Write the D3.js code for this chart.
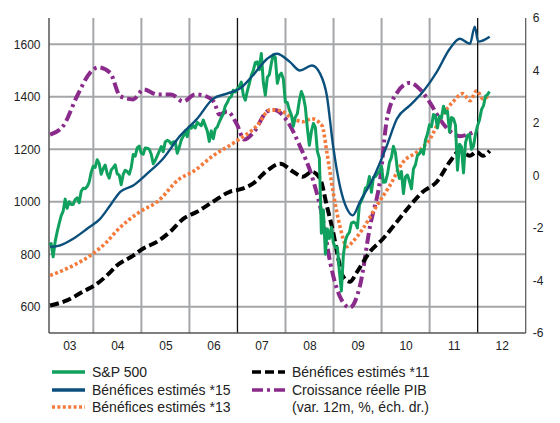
<!DOCTYPE html>
<html>
<head>
<meta charset="utf-8">
<script src="https://cdn.jsdelivr.net/npm/d3@7"></script>
<style>
body { margin: 0; background: #fff; }
text { font-family: "Liberation Sans", Arial, sans-serif; fill: #222; }
</style>
</head>
<body>
<script>
// axis ticks
var leftTicks = [600, 800, 1000, 1200, 1400, 1600];
var rightTicks = [-6, -4, -2, 0, 2, 4, 6];
var yearLabels = ["03", "04", "05", "06", "07", "08", "09", "10", "11", "12"];
var yearStarts = [2003, 2004, 2005, 2006, 2007, 2008, 2009, 2010, 2011, 2012];

// S&P 500, twice a month from Feb 2003
var spStart = 2003.08;
var sp500 = [
  835, 841, 790, 848, 885, 917, 946, 964, 1010, 975, 1000, 990, 990, 1008, 1015, 996, 1040, 1051, 1050, 1058, 1075, 1112,
  1135, 1131, 1160, 1145, 1105, 1126, 1140, 1107, 1090, 1121, 1130, 1141, 1106, 1102, 1065, 1104, 1120, 1115, 1105, 1130, 1180, 1174, 1205, 1212,
  1185, 1181, 1205, 1204, 1200, 1181, 1145, 1157, 1175, 1192, 1210, 1191, 1228, 1234, 1230, 1220, 1228, 1229, 1185, 1207, 1235, 1249, 1270, 1248,
  1287, 1280, 1290, 1281, 1303, 1295, 1290, 1311, 1290, 1270, 1230, 1270, 1240, 1277, 1285, 1304, 1320, 1336, 1365, 1378, 1395, 1401, 1425, 1418,
  1430, 1438, 1456, 1407, 1387, 1421, 1450, 1482, 1500, 1531, 1533, 1503, 1565, 1455, 1406, 1474, 1484, 1527, 1560, 1549, 1451, 1481, 1490, 1468,
  1380, 1378, 1350, 1331, 1288, 1323, 1335, 1386, 1420, 1400, 1360, 1280, 1215, 1267, 1298, 1283, 1192, 1165, 880, 969, 800, 896, 860, 903,
  843, 826, 827, 735, 660, 798, 852, 873, 883, 919, 923, 919, 900, 987, 1004, 1021, 1052, 1057, 1096, 1036, 1093, 1096, 1107, 1115,
  1136, 1074, 1075, 1104, 1150, 1169, 1211, 1187, 1120, 1089, 1115, 1031, 1095, 1102, 1079, 1049, 1125, 1141, 1176, 1183, 1199, 1181, 1235, 1258,
  1293, 1286, 1332, 1327, 1281, 1326, 1319, 1364, 1338, 1345, 1266, 1321, 1316, 1292, 1120, 1219, 1209, 1110, 1224, 1253, 1257, 1200, 1212, 1258,
  1289, 1312, 1351, 1366, 1402, 1408, 1420
];

// estimated earnings *15  [year, value]
var eps15 = [
  [2003.10, 828], [2003.31, 834], [2003.58, 859], [2003.87, 897], [2004.14, 935], [2004.35, 986],
  [2004.56, 1038], [2004.83, 1062], [2005.12, 1107], [2005.45, 1164], [2005.80, 1250], [2006.16, 1316],
  [2006.49, 1392], [2006.78, 1412], [2007.05, 1431], [2007.32, 1481], [2007.62, 1545], [2007.82, 1564],
  [2008.09, 1533], [2008.30, 1500], [2008.55, 1519], [2008.72, 1488], [2008.86, 1405], [2008.99, 1214],
  [2009.13, 1062], [2009.28, 973], [2009.40, 948], [2009.55, 1000], [2009.82, 1088], [2010.11, 1214],
  [2010.32, 1316], [2010.59, 1367], [2010.86, 1419], [2011.15, 1495], [2011.42, 1583], [2011.63, 1621],
  [2011.84, 1602], [2011.94, 1667], [2012.01, 1610], [2012.25, 1629]
];

// estimated earnings *13
var eps13 = [
  [2003.10, 719], [2003.58, 757], [2003.99, 802], [2004.28, 847], [2004.49, 890], [2004.97, 962],
  [2005.33, 1000], [2005.80, 1088], [2006.07, 1114], [2006.49, 1175], [2006.99, 1232], [2007.41, 1290],
  [2007.68, 1350], [2007.89, 1347], [2008.16, 1316], [2008.36, 1305], [2008.55, 1316], [2008.76, 1290],
  [2008.86, 1190], [2008.99, 1038], [2009.13, 909], [2009.28, 829], [2009.40, 848], [2009.61, 897],
  [2009.90, 985], [2010.17, 1061], [2010.45, 1152], [2010.74, 1190], [2011.01, 1240], [2011.22, 1316],
  [2011.49, 1381], [2011.69, 1412], [2011.84, 1385], [2011.98, 1423], [2012.11, 1392], [2012.25, 1408]
];

// estimated earnings *11
var eps11 = [
  [2003.10, 605], [2003.45, 624], [2003.78, 657], [2004.08, 688], [2004.28, 719], [2004.49, 757],
  [2004.83, 795], [2005.03, 821], [2005.33, 848], [2005.60, 886], [2005.87, 935], [2006.16, 962],
  [2006.49, 1000], [2006.84, 1038], [2007.05, 1047], [2007.32, 1069], [2007.62, 1119], [2007.89, 1145],
  [2008.16, 1114], [2008.36, 1095], [2008.55, 1114], [2008.72, 1088], [2008.86, 985], [2008.99, 886],
  [2009.13, 757], [2009.19, 718], [2009.34, 695], [2009.49, 733], [2009.76, 810], [2010.03, 859],
  [2010.32, 924], [2010.59, 985], [2010.86, 1038], [2011.15, 1076], [2011.42, 1152], [2011.63, 1194],
  [2011.84, 1175], [2011.98, 1190], [2012.11, 1175], [2012.25, 1194]
];

// real GDP growth, % y/y (right axis)
var gdp = [
  [2003.10, 1.56], [2003.37, 1.88], [2003.66, 3.02], [2003.93, 3.91], [2004.10, 4.12], [2004.35, 3.91],
  [2004.56, 3.02], [2004.83, 2.90], [2005.05, 3.28], [2005.33, 3.09], [2005.62, 3.09], [2005.87, 2.82],
  [2006.12, 3.09], [2006.37, 3.00], [2006.52, 2.78], [2006.62, 2.32], [2006.79, 2.44], [2006.99, 1.94],
  [2007.14, 1.37], [2007.35, 1.68], [2007.62, 2.44], [2007.77, 2.50], [2008.04, 2.06], [2008.30, 1.12],
  [2008.57, -0.15], [2008.78, -1.68], [2008.93, -3.31], [2009.13, -4.60], [2009.34, -5.03], [2009.55, -4.20],
  [2009.76, -1.93], [2009.97, -0.15], [2010.11, 2.13], [2010.32, 3.15], [2010.59, 3.53], [2010.80, 3.28],
  [2011.01, 2.77], [2011.22, 2.13], [2011.42, 1.69], [2011.63, 1.50], [2011.90, 1.64]
];

var svg = d3.select("body").append("svg")
    .attr("width", 560)
    .attr("height", 423);

var plotL = 49, plotR = 525.7, plotT = 18, plotB = 333;

var x = d3.scaleLinear().domain([2003, 2013]).range([45.3, 525.7]);
var yL = d3.scaleLinear().domain([500, 1700]).range([plotB, plotT]);
var yR = d3.scaleLinear().domain([-6, 6]).range([plotB, plotT]);

// horizontal grid
svg.selectAll(".hgrid")
    .data(leftTicks)
    .enter().append("line")
    .attr("x1", plotL).attr("x2", plotR)
    .attr("y1", d => yL(d)).attr("y2", d => yL(d))
    .attr("stroke", "#a4a6a9").attr("stroke-width", 2);

// vertical grid at year starts (07 and 12 drawn dark)
svg.selectAll(".vgrid")
    .data(yearStarts.slice(1))
    .enter().append("line")
    .attr("x1", d => x(d)).attr("x2", d => x(d))
    .attr("y1", plotT).attr("y2", plotB)
    .attr("stroke", d => (d === 2007 || d === 2012) ? "#111" : "#a4a6a9")
    .attr("stroke-width", d => (d === 2007 || d === 2012) ? 1.3 : 2);

// frame
svg.append("line").attr("x1", plotL).attr("x2", plotL).attr("y1", plotT).attr("y2", plotB)
    .attr("stroke", "#555").attr("stroke-width", 1.5);
svg.append("line").attr("x1", plotR).attr("x2", plotR).attr("y1", plotT).attr("y2", plotB)
    .attr("stroke", "#555").attr("stroke-width", 1.2);
svg.append("line").attr("x1", plotL).attr("x2", plotR).attr("y1", plotB).attr("y2", plotB)
    .attr("stroke", "#555").attr("stroke-width", 1.5);

// axes
var axL = svg.append("g").attr("transform", "translate(" + plotL + ",0)")
    .call(d3.axisLeft(yL).tickValues(leftTicks).tickFormat(d => String(d)).tickSize(0).tickPadding(8.5));
var axR = svg.append("g").attr("transform", "translate(" + plotR + ",0)")
    .call(d3.axisRight(yR).tickValues(rightTicks).tickFormat(d => String(d)).tickSize(0).tickPadding(7));
var axB = svg.append("g").attr("transform", "translate(0," + plotB + ")")
    .call(d3.axisBottom(x).tickValues(yearStarts.map(d => d + 0.5))
        .tickFormat((d, i) => yearLabels[i]).tickSize(0).tickPadding(8));
[axL, axR, axB].forEach(function(g) {
    g.attr("font-family", null);
    g.select(".domain").remove();
    g.selectAll("text").attr("font-size", 12).attr("fill", "#222");
});

svg.append("clipPath").attr("id", "plot")
    .append("rect").attr("x", plotL).attr("y", 0).attr("width", plotR - plotL).attr("height", plotB + 2);

var plot = svg.append("g").attr("clip-path", "url(#plot)");

var lineL = d3.line().x(d => x(d[0])).y(d => yL(d[1])).curve(d3.curveMonotoneX);
var lineR = d3.line().x(d => x(d[0])).y(d => yR(d[1])).curve(d3.curveMonotoneX);
var lineSP = d3.line().x((d, i) => x(spStart + i / 24)).y(d => yL(d));

var styles = {
    sp:  { color: "#10a15e", width: 3, dash: null },
    e15: { color: "#0b4f7c", width: 2.4, dash: null },
    e13: { color: "#f47b3c", width: 3.6, dash: "3,2.4" },
    e11: { color: "#000", width: 4, dash: "9,4" },
    gdp: { color: "#8a2a8b", width: 4, dash: "11,4,3,4" }
};

function draw(path, s) {
    plot.append("path").attr("d", path)
        .attr("fill", "none")
        .attr("stroke", s.color)
        .attr("stroke-width", s.width)
        .attr("stroke-dasharray", s.dash)
        .attr("stroke-linejoin", "round");
}

draw(lineR(gdp), styles.gdp);
draw(lineL(eps11), styles.e11);
draw(lineL(eps13), styles.e13);
draw(lineSP(sp500), styles.sp);
draw(lineL(eps15), styles.e15);

// legend
var legend = [
    { label: "S&P 500", s: styles.sp, x: 52, y: 372 },
    { label: "Bénéfices estimés *15", s: styles.e15, x: 52, y: 390 },
    { label: "Bénéfices estimés *13", s: styles.e13, x: 52, y: 407 },
    { label: "Bénéfices estimés *11", s: styles.e11, x: 252, y: 372 },
    { label: "Croissance réelle PIB", s: styles.gdp, x: 252, y: 390 },
    { label: "(var. 12m, %, éch. dr.)", s: null, x: 252, y: 407 }
];

var items = svg.selectAll(".legend")
    .data(legend)
    .enter().append("g")
    .attr("class", "legend");

items.filter(d => d.s).append("line")
    .attr("x1", d => d.x).attr("x2", d => d.x + 33)
    .attr("y1", d => d.y).attr("y2", d => d.y)
    .attr("stroke", d => d.s.color)
    .attr("stroke-width", 3.5)
    .attr("stroke-dasharray", d => d.s.dash);

items.append("text")
    .attr("x", d => d.x + 40)
    .attr("y", d => d.y)
    .attr("dy", "0.36em")
    .attr("font-size", 14)
    .text(d => d.label);
</script>
</body>
</html>
